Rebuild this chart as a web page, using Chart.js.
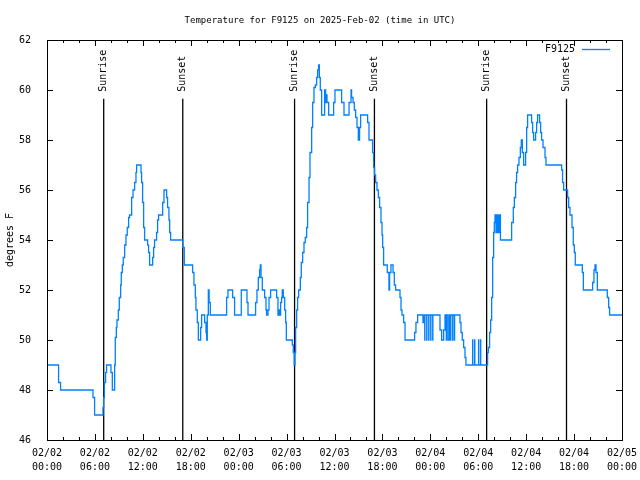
<!DOCTYPE html>
<html>
<head>
<meta charset="utf-8">
<script src="https://cdn.jsdelivr.net/npm/chart.js@4"></script>
<style>
  html, body { margin: 0; padding: 0; background: #fff; }
  #wrap { width: 640px; height: 480px; }
</style>
</head>
<body>
<div id="wrap"><canvas id="temp-chart" width="640" height="480"></canvas></div>
<script>
// Temperature for F9125 - step plot, hours since 2025-02-02 00:00 UTC

// Readings (hour of the change, new temperature in F)
const hours = [
  0.00, 1.45, 1.70, 5.76, 5.96, 7.01, 7.09, 7.18, 7.34, 7.46, 8.01, 8.18, 8.47, 8.55, 8.68, 8.76, 8.93,
  9.05, 9.22, 9.30, 9.43, 9.55, 9.72, 9.89, 10.05, 10.22, 10.34, 10.60, 10.77, 10.97, 11.14, 11.22,
  11.77, 11.85, 11.97, 12.10, 12.22, 12.60, 12.72, 12.85, 13.23, 13.35, 13.47, 13.72, 13.85, 13.97,
  14.48, 14.65, 14.98, 15.10, 15.27, 15.36, 15.48, 17.00, 17.19, 18.23, 18.40, 18.57, 18.65, 18.82,
  18.95, 19.24, 19.36, 19.74, 19.91, 19.99, 20.07, 20.20, 20.30, 20.45, 22.49, 22.66, 23.24, 23.49,
  24.33, 25.04, 25.17, 26.12, 26.29, 26.46, 26.62, 26.71, 26.80, 26.96, 27.25, 27.42, 27.50, 27.67,
  27.80, 28.00, 28.75, 28.92, 29.05, 29.17, 29.25, 29.38, 29.46, 29.59, 29.76, 29.88, 29.97, 30.72,
  30.84, 30.95, 31.05, 31.13, 31.26, 31.38, 31.51, 31.72, 31.84, 32.01, 32.18, 32.34, 32.51, 32.63,
  32.81, 32.93, 33.14, 33.26, 33.43, 33.60, 33.76, 33.89, 34.01, 34.10, 34.22, 34.39, 34.76, 34.89,
  34.97, 35.06, 35.27, 35.89, 36.06, 36.89, 37.19, 37.82, 38.07, 38.14, 38.32, 38.48, 38.65, 38.82,
  38.98, 39.14, 39.27, 40.15, 40.32, 40.77, 40.90, 41.02, 41.15, 41.32, 41.49, 41.65, 41.82, 41.95,
  42.03, 42.15, 42.61, 42.82, 42.90, 43.07, 43.33, 43.49, 43.65, 44.20, 44.33, 44.45, 44.66, 44.83,
  46.03, 46.20, 46.41, 47.08, 47.20, 47.30, 47.32, 47.55, 47.57, 47.80, 47.82, 48.05, 48.07,
  48.30, 48.32, 49.21, 49.42, 49.67, 49.84, 50.00, 50.02, 50.20, 50.38, 50.55, 50.57, 50.80,
  50.82, 51.02, 51.04, 51.71, 51.84, 52.00, 52.17, 52.34, 52.46, 53.30, 53.32, 53.55, 53.57,
  54.04, 54.06, 54.29, 54.31, 55.17, 55.26, 55.42, 55.55, 55.68, 55.80, 55.93,
  56.01, 56.10, 56.22, 56.30, 56.42, 56.50, 56.62, 56.68, 56.78, 58.18, 58.39, 58.52, 58.68, 58.80,
  58.93, 59.10, 59.27, 59.39, 59.52, 59.68, 59.93, 60.06, 60.18, 60.68, 60.81, 60.93, 61.18, 61.31,
  61.43, 61.68, 61.81, 61.93, 62.11, 62.36, 62.48, 64.44, 64.56, 64.69, 65.19, 65.32, 65.49, 65.74,
  65.90, 66.03, 66.15, 67.03, 67.16, 68.32, 68.49, 68.62, 68.75, 68.91, 70.16, 70.33, 70.45, 72.00
];
const temps = [
  49.0, 48.3, 48.0, 47.7, 47.0, 47.3, 47.7, 48.3, 48.7, 49.0, 48.7, 48.0, 49.0, 50.1, 50.5, 50.8, 51.2,
  51.7, 52.2, 52.7, 53.0, 53.3, 53.8, 54.2, 54.5, 54.9, 55.0, 55.7, 56.0, 56.3, 56.7, 57.0,
  56.7, 56.3, 55.5, 54.5, 54.0, 53.8, 53.5, 53.0, 53.3, 53.7, 54.0, 54.3, 54.8, 55.0,
  55.5, 56.0, 55.7, 55.3, 54.8, 54.3, 54.0, 53.7, 53.0, 52.7, 52.2, 51.7, 51.2, 50.7,
  50.0, 50.5, 51.0, 50.7, 50.3, 50.0, 51.0, 52.0, 51.5, 51.0, 51.7, 52.0, 51.7, 51.0,
  52.0, 51.5, 51.0, 51.5, 52.0, 52.5, 52.8, 53.0, 52.5, 52.0, 51.7, 51.2, 51.0, 51.2,
  51.7, 52.0, 51.7, 51.0, 51.2, 51.0, 51.5, 51.7, 52.0, 51.7, 51.2, 50.7, 50.0, 49.8,
  49.5, 49.0, 49.5, 50.5, 51.2, 51.7, 52.0, 52.5, 53.1, 53.5, 53.9, 54.1, 54.5, 55.5,
  56.5, 57.5, 58.5, 59.5, 60.1, 60.2, 60.5, 60.8, 61.0, 60.5, 60.0, 59.0, 60.0, 59.5,
  59.8, 59.5, 59.0, 59.5, 60.0, 59.5, 59.0, 59.5, 60.0, 59.7, 59.5, 59.2, 58.9, 58.5,
  58.0, 58.5, 59.0, 58.7, 58.0, 57.5, 56.9, 56.6, 56.3, 56.0, 55.7, 55.3, 54.7, 54.2,
  53.7, 53.0, 52.7, 52.0, 52.7, 53.0, 52.7, 52.2, 52.0, 51.7, 51.2, 51.0, 50.7, 50.0,
  50.3, 50.7, 51.0, 50.7, 51.0, 50.0, 51.0, 50.0, 51.0, 50.0, 51.0, 50.0, 51.0,
  50.0, 51.0, 50.4, 50.0, 50.4, 51.0, 50.0, 51.0, 50.0, 51.0, 50.0, 51.0, 50.0,
  51.0, 50.0, 51.0, 50.7, 50.3, 50.0, 49.7, 49.3, 49.0, 50.0, 49.0, 50.0, 49.0,
  50.0, 49.0, 50.0, 49.0, 49.5, 49.7, 50.3, 50.8, 51.7, 53.3, 54.3,
  54.7, 55.0, 54.3, 55.0, 54.3, 55.0, 54.3, 55.0, 54.0, 54.7, 55.3, 55.7, 56.3, 56.7,
  57.0, 57.3, 57.7, 58.0, 57.5, 57.0, 57.5, 58.5, 59.0, 58.7, 58.3, 58.0, 58.3, 58.7,
  59.0, 58.7, 58.3, 58.0, 57.7, 57.3, 57.0, 56.8, 56.3, 56.0, 55.7, 55.3, 55.0, 54.5,
  53.8, 53.5, 53.0, 52.7, 52.0, 52.3, 52.8, 53.0, 52.7, 52.0, 51.7, 51.3, 51.0, 51.0
];

// Sunrise / sunset markers
const sunTimes = [7.1, 17.0, 31.0, 41.0, 55.05, 65.05];
const sunLabels = ['Sunrise', 'Sunset', 'Sunrise', 'Sunset', 'Sunrise', 'Sunset'];

// X tick labels (every 6 hours)
const dayLabels = ['02/02', '02/02', '02/02', '02/02', '02/03', '02/03', '02/03', '02/03',
                   '02/04', '02/04', '02/04', '02/04', '02/05'];
const timeLabels = ['00:00', '06:00', '12:00', '18:00', '00:00', '06:00', '12:00', '18:00',
                    '00:00', '06:00', '12:00', '18:00', '00:00'];

const FONT = "'DejaVu Sans Mono', monospace";
const LINE_COLOR = '#0080ff';
const SUN_TOP = 59.65; // where the marker lines stop

// Frame, inward ticks, marker labels and key, gnuplot style
const gnuplotFrame = {
  id: 'gnuplotFrame',
  afterDraw(chart) {
    const { ctx, chartArea: a, scales: { x, y } } = chart;
    ctx.save();
    ctx.strokeStyle = '#000';
    ctx.lineWidth = 1;
    ctx.strokeRect(Math.round(a.left) + 0.5, Math.round(a.top) + 0.5,
      Math.round(a.right - a.left), Math.round(a.bottom - a.top));

    ctx.beginPath();
    for (let h = 0; h <= 72; h += 2) {
      const px = Math.round(x.getPixelForValue(h)) + 0.5;
      const len = h % 6 === 0 ? 6 : 3;
      ctx.moveTo(px, a.bottom); ctx.lineTo(px, a.bottom - len);
      ctx.moveTo(px, a.top); ctx.lineTo(px, a.top + len);
    }
    for (let v = 46; v <= 62; v += 2) {
      const py = Math.round(y.getPixelForValue(v)) + 0.5;
      ctx.moveTo(a.left, py); ctx.lineTo(a.left + 6, py);
      ctx.moveTo(a.right, py); ctx.lineTo(a.right - 6, py);
    }
    ctx.stroke();

    // rotated marker labels
    ctx.fillStyle = '#000';
    ctx.font = '10px ' + FONT;
    ctx.textAlign = 'left';
    ctx.textBaseline = 'middle';
    sunTimes.forEach((t, i) => {
      const px = x.getPixelForValue(t);
      ctx.save();
      ctx.translate(px, y.getPixelForValue(SUN_TOP) - 7);
      ctx.rotate(-Math.PI / 2);
      ctx.fillText(sunLabels[i], 0, 0);
      ctx.restore();
    });

    // key
    ctx.textAlign = 'right';
    ctx.fillText('F9125', a.right - 47, a.top + 9);
    ctx.strokeStyle = LINE_COLOR;
    ctx.lineWidth = 1.3;
    ctx.beginPath();
    ctx.moveTo(a.right - 40, a.top + 9.5);
    ctx.lineTo(a.right - 12, a.top + 9.5);
    ctx.stroke();
    ctx.restore();
  }
};

const tempData = hours.map((h, i) => ({ x: h, y: temps[i] }));
const sunSets = sunTimes.map(t => ({
  data: [{ x: t, y: 46 }, { x: t, y: SUN_TOP }],
  borderColor: '#000',
  borderWidth: 1.3,
  pointRadius: 0,
  order: 2
}));

new Chart(document.getElementById('temp-chart'), {
  type: 'line',
  data: {
    datasets: [{
      label: 'F9125',
      data: tempData,
      borderColor: LINE_COLOR,
      borderWidth: 1.3,
      stepped: true,
      pointRadius: 0,
      order: 1
    }, ...sunSets]
  },
  options: {
    responsive: false,
    animation: false,
    events: [],
    plugins: {
      legend: { display: false },
      tooltip: { enabled: false },
      title: {
        display: true,
        text: 'Temperature for F9125 on 2025-Feb-02 (time in UTC)',
        color: '#000',
        font: { family: FONT, size: 9, weight: 'normal', lineHeight: 1.2 },
        padding: { top: 15, bottom: 14.2 }
      }
    },
    scales: {
      x: {
        type: 'linear',
        min: 0,
        max: 72,
        afterFit: (s) => { s.height = 40; },
        afterBuildTicks: (s) => {
          s.ticks = timeLabels.map((_, i) => ({ value: i * 6 }));
        },
        ticks: {
          color: '#000',
          maxRotation: 0,
          autoSkip: false,
          padding: -2,
          font: { family: FONT, size: 10, lineHeight: 1.4 },
          callback: (v, i) => [dayLabels[i], timeLabels[i]]
        },
        grid: { display: false },
        border: { display: false }
      },
      y: {
        min: 46,
        max: 62,
        afterFit: (s) => { s.width = 47; },
        ticks: {
          stepSize: 2,
          color: '#000',
          padding: 8,
          font: { family: FONT, size: 10 }
        },
        title: {
          display: true,
          text: 'degrees F',
          color: '#000',
          font: { family: FONT, size: 10 },
          padding: { top: 4, bottom: 0 }
        },
        grid: { display: false },
        border: { display: false }
      },
      // empty right margin so the title stays centred on the page
      yRight: {
        position: 'right',
        min: 46,
        max: 62,
        afterFit: (s) => { s.width = 18; },
        ticks: { display: false },
        grid: { display: false },
        border: { display: false }
      }
    }
  },
  plugins: [gnuplotFrame]
});
</script>
</body>
</html>
